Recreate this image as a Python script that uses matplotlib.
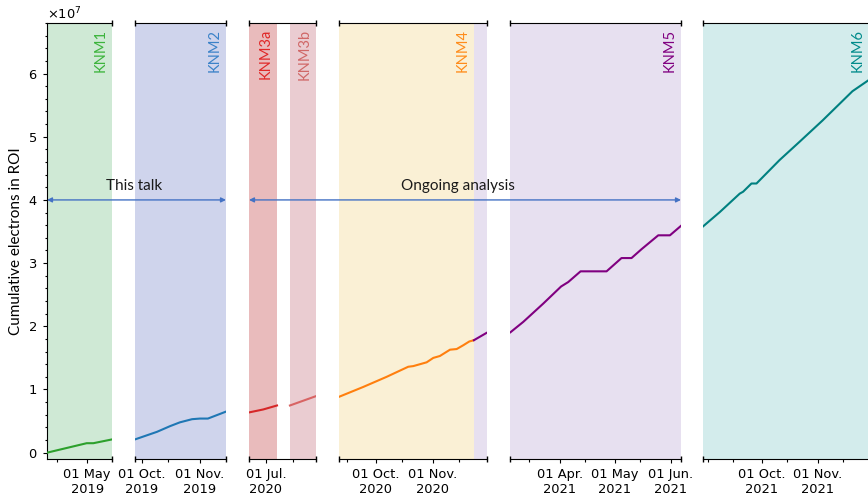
import matplotlib
matplotlib.use('Agg')
import matplotlib.pyplot as plt
import matplotlib.dates as mdates
import matplotlib.ticker as mticker
from matplotlib.patches import ConnectionPatch
import pandas as pd

# ---------------- data ----------------
# x-range of each broken-axis panel
panel_start = ['2019-04-10', '2019-09-27 06:00', '2020-06-22 05:00',
               '2020-09-10 22:00', '2021-03-04 12:00', '2021-08-29 07:00']
panel_end = ['2019-05-14', '2019-11-14 22:00', '2020-07-26 22:00',
             '2020-11-30 10:00', '2021-06-06 12:00', '2021-11-29 12:00']

# labelled date ticks per panel
tick_dates = [['2019-05-01'],
              ['2019-10-01', '2019-11-01'],
              ['2020-07-01'],
              ['2020-10-01', '2020-11-01'],
              ['2021-04-01', '2021-05-01', '2021-06-01'],
              ['2021-10-01', '2021-11-01']]
tick_labels = [['01 May\n2019'],
               ['01 Oct.\n2019', '01 Nov.\n2019'],
               ['01 Jul.\n2020'],
               ['01 Oct.\n2020', '01 Nov.\n2020'],
               ['01 Apr.\n2021', '01 May\n2021', '01 Jun.\n2021'],
               ['01 Oct.\n2021', '01 Nov.\n2021']]

# measurement campaigns
campaigns = ['KNM1', 'KNM2', 'KNM3a', 'KNM3b', 'KNM4', 'KNM5', 'KNM6']
campaign_start = ['2019-04-01', '2019-09-20', '2020-06-15', '2020-07-13 10:00',
                  '2020-09-01', '2020-11-23 07:00', '2021-08-20']
campaign_end = ['2019-05-14', '2019-11-14 22:00', '2020-07-06 17:00', '2020-07-26 22:00',
                '2020-11-23 07:00', '2021-06-06 12:00', '2021-12-31']

knm1_dates = ['2019-04-10', '2019-04-30 18:00', '2019-05-04 06:00', '2019-05-14']
knm1_vals = [0.0, 1.5e6, 1.5e6, 2.1e6]

knm2_dates = ['2019-09-27 06:00', '2019-10-09', '2019-10-16', '2019-10-21 06:00',
              '2019-10-27 18:00', '2019-11-01', '2019-11-05 06:00', '2019-11-14 22:00']
knm2_vals = [2.1e6, 3.3e6, 4.2e6, 4.8e6, 5.3e6, 5.4e6, 5.4e6, 6.5e6]

knm3a_dates = ['2020-06-22 05:00', '2020-06-29 14:00', '2020-07-06 17:00']
knm3a_vals = [6.37e6, 6.84e6, 7.47e6]

knm3b_dates = ['2020-07-13 10:00', '2020-07-26 22:00']
knm3b_vals = [7.47e6, 8.95e6]

knm4_dates = ['2020-09-10 22:00', '2020-09-24 02:00', '2020-10-06 19:00', '2020-10-18 14:00',
              '2020-10-21 07:00', '2020-10-28 14:00', '2020-11-01 05:00', '2020-11-04 19:00',
              '2020-11-10 07:00', '2020-11-13 22:00', '2020-11-17 12:00', '2020-11-20 19:00',
              '2020-11-23 07:00']
knm4_vals = [8.84e6, 10.4e6, 12.0e6, 13.6e6, 13.7e6, 14.3e6, 15.0e6, 15.3e6,
             16.3e6, 16.4e6, 17.0e6, 17.6e6, 17.8e6]

knm5_dates = ['2020-11-23 07:00', '2020-11-30 10:00', '2021-03-04 12:00', '2021-03-11 19:00',
              '2021-03-22 19:00', '2021-04-01 14:00', '2021-04-05 12:00', '2021-04-12 07:00',
              '2021-04-26 14:00', '2021-05-04 19:00', '2021-05-10 07:00', '2021-05-15 19:00',
              '2021-05-25 00:00', '2021-05-31 10:00', '2021-06-06 12:00']
knm5_vals = [17.8e6, 19.0e6, 19.0e6, 20.7e6, 23.6e6, 26.3e6, 27.0e6, 28.7e6,
             28.7e6, 30.8e6, 30.8e6, 32.2e6, 34.4e6, 34.4e6, 35.9e6]

knm6_dates = ['2021-08-29 07:00', '2021-09-07 17:00', '2021-09-18 17:00', '2021-09-20 14:00',
              '2021-09-25 05:00', '2021-09-28 00:00', '2021-10-10 19:00', '2021-10-21 22:00',
              '2021-11-03 19:00', '2021-11-20 07:00', '2021-11-29 12:00']
knm6_vals = [35.8e6, 38.1e6, 41.0e6, 41.3e6, 42.6e6, 42.6e6, 46.3e6, 49.2e6,
             52.6e6, 57.2e6, 59.0e6]

# ---------------- styles ----------------
span_colors = ['#cfe9d5', '#cfd4ec', '#e9bbbc', '#eaccd1', '#faf0d5', '#e7e0f0', '#d3ecec']
line_colors = ['#2ca02c', '#1f77b4', '#d62728', '#d86464', '#ff7f0e', '#800080', '#008080']
label_colors = ['#3cb43c', '#3b82c8', '#e02828', '#d06868', '#ff8c1a', '#800080', '#008b8b']
label_panel = [0, 1, 2, 2, 3, 4, 5]

series = [(knm1_dates, knm1_vals), (knm2_dates, knm2_vals), (knm3a_dates, knm3a_vals),
          (knm3b_dates, knm3b_vals), (knm4_dates, knm4_vals), (knm5_dates, knm5_vals),
          (knm6_dates, knm6_vals)]


def ts(s):
    return pd.to_datetime(s, format='mixed')


W, H = 868, 496
fig = plt.figure(figsize=(W / 100, H / 100), dpi=100)

# panel pixel extents (left, right) and vertical extent
px_left = [47, 135, 249, 339, 510, 703]
px_right = [112, 226, 316, 487, 681, 869]
py_top, py_bottom = 23, 459

TICKFS = 9.4
LABEL_FONT = ['Lato', 'DejaVu Sans']

axes = []
for i in range(6):
    ax = fig.add_axes([px_left[i] / W, 1 - py_bottom / H,
                       (px_right[i] - px_left[i]) / W, (py_bottom - py_top) / H])
    axes.append(ax)
    x0 = ts(panel_start[i])
    x1 = ts(panel_end[i])

    for c in range(len(campaigns)):
        ax.axvspan(ts(campaign_start[c]), ts(campaign_end[c]),
                   color=span_colors[c], lw=0, zorder=0)
    for c, (d, v) in enumerate(series):
        ax.plot(ts(d), v, color=line_colors[c], lw=1.5, zorder=3)

    ax.set_xlim(x0, x1)
    ax.set_ylim(-1e6, 6.8e7)

    ax.xaxis.set_major_locator(mticker.FixedLocator(
        [mdates.date2num(ts(t)) for t in tick_dates[i]]))
    ax.xaxis.set_major_formatter(mticker.FixedFormatter(tick_labels[i]))
    ax.xaxis.set_minor_locator(mdates.DayLocator(bymonthday=[1, 15]))
    ax.tick_params(axis='x', which='major', length=3.2, width=0.8, labelsize=TICKFS, pad=3)
    ax.tick_params(axis='x', which='minor', length=1.8, width=0.8)
    for lab in ax.get_xticklabels():
        lab.set_multialignment('center')

    ax.spines['right'].set_visible(False)
    if i == 0:
        ax.yaxis.set_major_locator(mticker.MultipleLocator(1e7))
        ax.yaxis.set_minor_locator(mticker.AutoMinorLocator(5))
        ax.ticklabel_format(axis='y', style='sci', scilimits=(0, 0), useMathText=True)
        ax.tick_params(axis='y', which='major', length=3.2, width=0.8, labelsize=TICKFS, pad=4)
        ax.tick_params(axis='y', which='minor', length=1.8, width=0.8)
        ax.yaxis.get_offset_text().set_fontsize(TICKFS)
    else:
        ax.spines['left'].set_visible(False)
        ax.tick_params(axis='y', which='both', left=False, labelleft=False)

    # break markers
    mk = dict(marker=[(0, -1), (0, 1)], markersize=4, color='k', mew=1,
              linestyle='none', transform=ax.transAxes, clip_on=False, zorder=5)
    if i > 0:
        ax.plot([0, 0], [0, 1], **mk)
    if i < 5:
        ax.plot([1, 1], [0, 1], **mk)

# campaign labels
for c in range(len(campaigns)):
    ax = axes[label_panel[c]]
    xe = min(ts(campaign_end[c]), ts(panel_end[label_panel[c]]))
    ax.annotate(campaigns[c], xy=(mdates.date2num(xe), 1), xycoords=ax.get_xaxis_transform(),
                xytext=(-4, -6), textcoords='offset pixels', rotation=90,
                ha='right', va='top', color=label_colors[c], fontsize=10.5,
                family=LABEL_FONT, zorder=6)

# arrows
arrow_kw = dict(arrowstyle='<|-|>', color='#4472c4', lw=1.0, mutation_scale=7,
                shrinkA=0, shrinkB=0, zorder=7)
fig.add_artist(ConnectionPatch(xyA=(0, 4e7), coordsA=axes[0].get_yaxis_transform(),
                               xyB=(1, 4e7), coordsB=axes[1].get_yaxis_transform(), **arrow_kw))
fig.add_artist(ConnectionPatch(xyA=(0, 4e7), coordsA=axes[2].get_yaxis_transform(),
                               xyB=(1, 4e7), coordsB=axes[4].get_yaxis_transform(), **arrow_kw))

fig.text(134.5 / W, 1 - 186 / H, 'This talk', ha='center', va='center',
         fontsize=11, family=LABEL_FONT, color='#1a1a1a')
fig.text(458 / W, 1 - 186 / H, 'Ongoing analysis', ha='center', va='center',
         fontsize=11, family=LABEL_FONT, color='#1a1a1a')

fig.text(16 / W, 1 - 241 / H, 'Cumulative electrons in ROI', rotation=90,
         ha='center', va='center', fontsize=11, family=LABEL_FONT)

fig.savefig('out.png', dpi=100)
